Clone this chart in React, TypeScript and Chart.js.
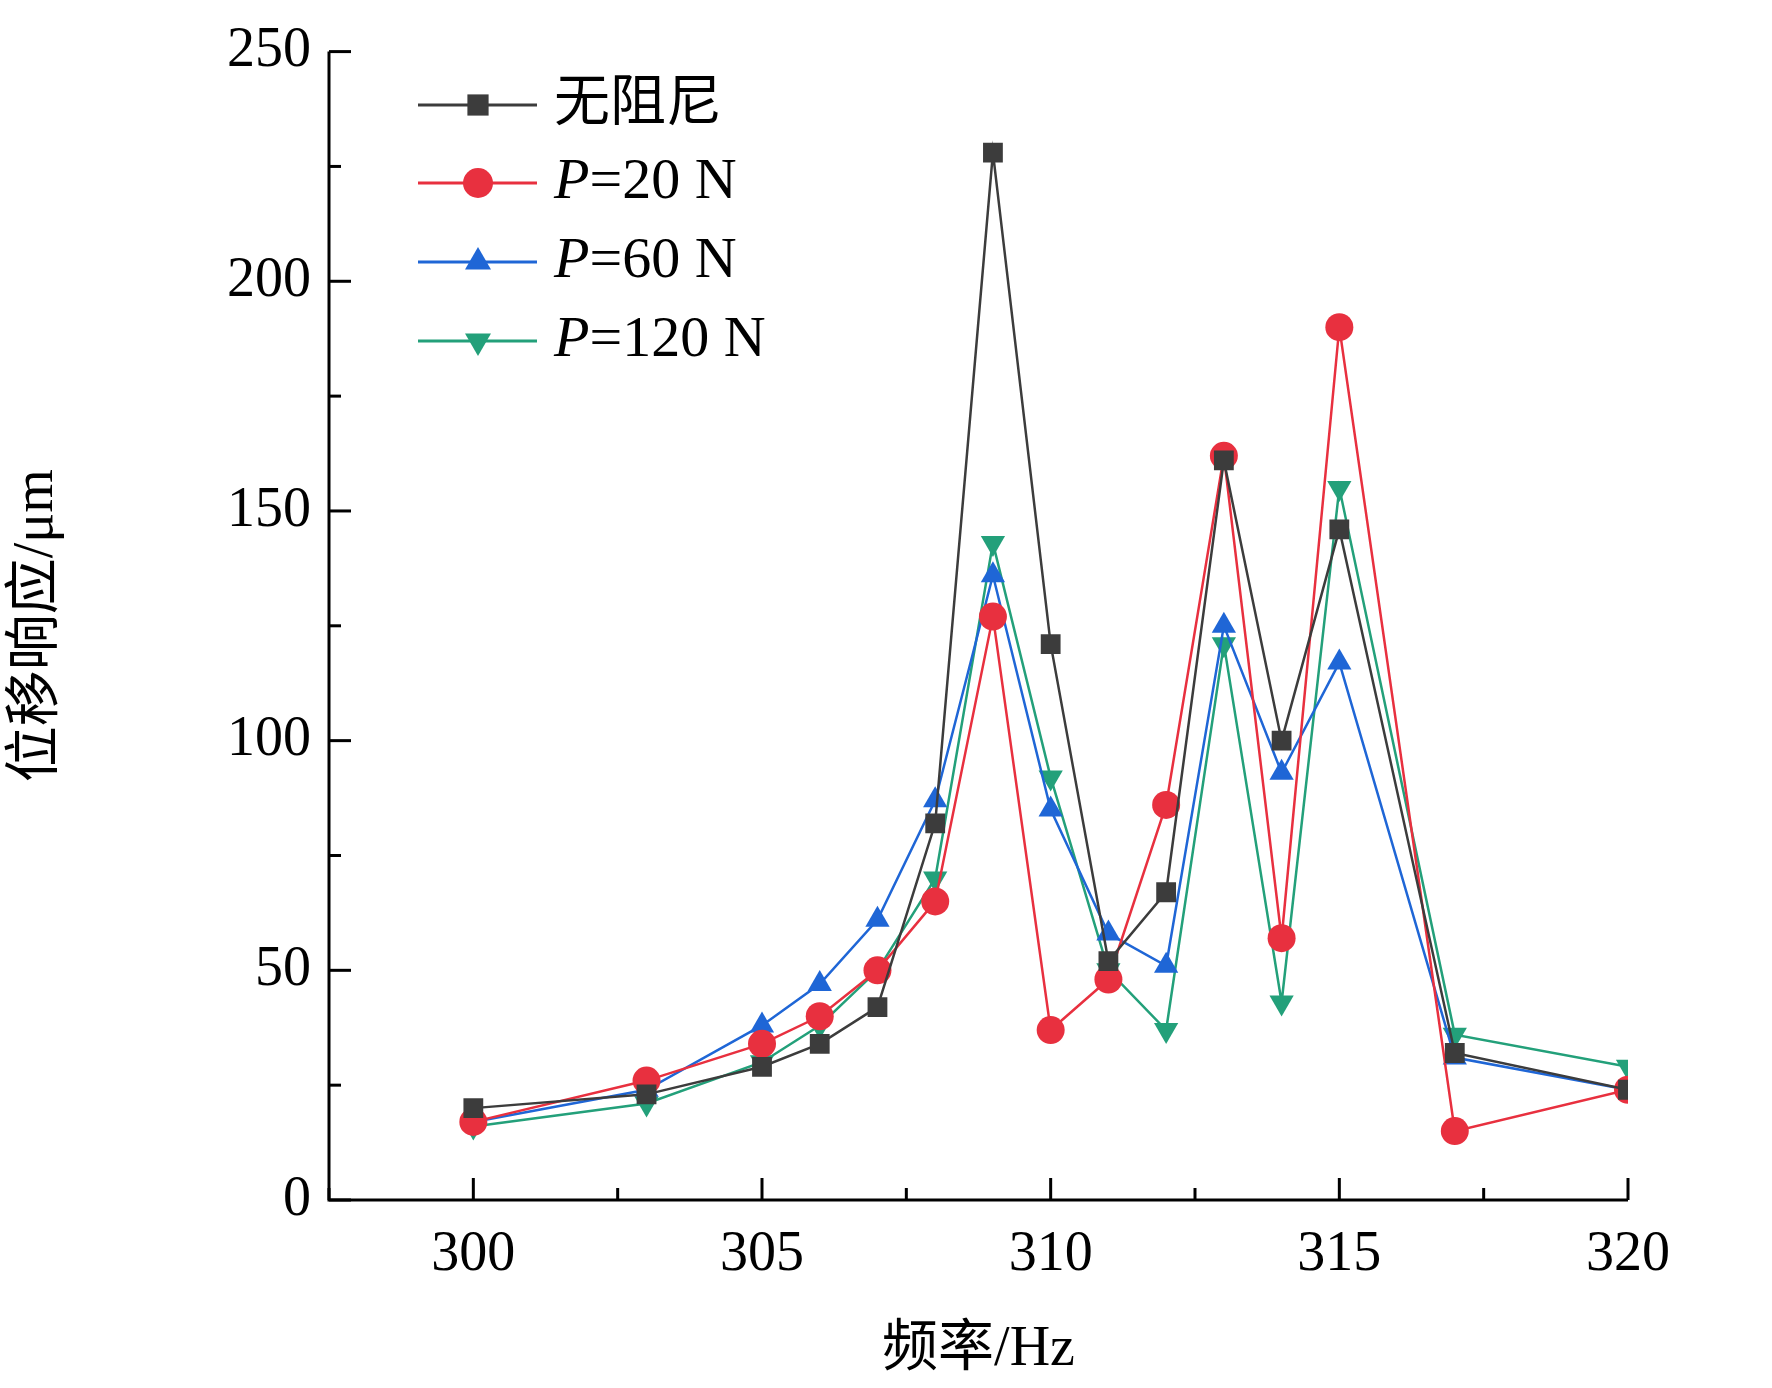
import { useEffect, useRef } from "react"
import { Chart, registerables } from "chart.js"
import { drawPoint } from "chart.js/helpers"

Chart.register(...registerables)

const freqs = [300, 303, 305, 306, 307, 308, 309, 310, 311, 312, 313, 314, 315, 317, 320]
const noDamping = [20, 23, 29, 34, 42, 82, 228, 121, 52, 67, 161, 100, 146, 32, 24]
const p20 = [17, 26, 34, 40, 50, 65, 127, 37, 48, 86, 162, 57, 190, 15, 24]
const p60 = [17, 24, 38, 47, 61, 87, 136, 85, 58, 51, 125, 93, 117, 31, 24]
const p120 = [16, 21, 30, 38, 50, 70, 143, 92, 50, 37, 121, 43, 155, 36, 29]
const xTicks = [300, 305, 310, 315, 320]
const yTicks = [0, 50, 100, 150, 200, 250]

const series = [
  { label: "无阻尼", data: noDamping, color: "#3c3c3c", style: "rect", rot: 0 },
  { label: "=20 N", data: p20, color: "#e8303f", style: "circle", rot: 0 },
  { label: "=60 N", data: p60, color: "#1f66d6", style: "triangle", rot: 0 },
  { label: "=120 N", data: p120, color: "#23a07a", style: "triangle", rot: 180 },
]

const SERIF = "'Liberation Serif', 'Noto Sans CJK SC', serif"

const axesPlugin = {
  id: "axesTicks",
  afterDraw(chart: any) {
    const { ctx, chartArea: a, scales } = chart
    const x = scales.x
    const y = scales.y
    ctx.save()
    ctx.strokeStyle = "#000"
    ctx.lineWidth = 3
    ctx.beginPath()
    ctx.moveTo(a.left, a.top)
    ctx.lineTo(a.left, a.bottom)
    ctx.lineTo(a.right, a.bottom)
    ctx.stroke()
    for (let v = 297.5; v <= 320; v += 2.5) {
      const px = x.getPixelForValue(v)
      const len = v % 5 === 0 ? 22 : 12
      ctx.beginPath()
      ctx.moveTo(px, a.bottom)
      ctx.lineTo(px, a.bottom - len)
      ctx.stroke()
    }
    for (let v = 0; v <= 250; v += 25) {
      const py = y.getPixelForValue(v)
      const len = v % 50 === 0 ? 22 : 12
      ctx.beginPath()
      ctx.moveTo(a.left, py)
      ctx.lineTo(a.left + len, py)
      ctx.stroke()
    }
    // legend
    const rows = [105, 183, 262, 341]
    series.forEach((s, i) => {
      const ry = rows[i]
      ctx.strokeStyle = s.color
      ctx.lineWidth = 3
      ctx.beginPath()
      ctx.moveTo(418, ry)
      ctx.lineTo(537, ry)
      ctx.stroke()
      ctx.fillStyle = s.color
      ctx.lineWidth = 0.01
      drawPoint(ctx, { pointStyle: s.style as any, radius: 15, rotation: s.rot, borderWidth: 0 }, 478, ry)
      ctx.fillStyle = "#000"
      ctx.textBaseline = "middle"
      ctx.textAlign = "left"
      if (i === 0) {
        ctx.font = `56px ${SERIF}`
        ctx.fillText(s.label, 554, ry)
      } else {
        ctx.font = `italic 58px ${SERIF}`
        ctx.fillText("P", 554, ry)
        const w = ctx.measureText("P").width
        ctx.font = `58px ${SERIF}`
        ctx.fillText(s.label, 554 + w, ry)
      }
    })
    ctx.restore()
  },
}

export default function App() {
  const ref = useRef<HTMLCanvasElement>(null)

  useEffect(() => {
    document.body.style.margin = "0"
    if (!ref.current) return
    const chart = new Chart(ref.current, {
      type: "line",
      data: {
        datasets: series.map((s) => ({
          label: s.label,
          data: freqs.map((f, i) => ({ x: f, y: s.data[i] })),
          borderColor: s.color,
          backgroundColor: s.color,
          borderWidth: 2.5,
          pointStyle: s.style as any,
          pointRotation: s.rot,
          pointRadius: 14,
          pointBorderWidth: 0,
          tension: 0,
        })),
      },
      options: {
        animation: false,
        responsive: false,
        layout: { padding: { top: 34, right: 144, left: 0, bottom: 0 } },
        plugins: { legend: { display: false }, tooltip: { enabled: false } },
        scales: {
          x: {
            type: "linear",
            min: 297.5,
            max: 320,
            afterBuildTicks: (s: any) => {
              s.ticks = xTicks.map((v) => ({ value: v }))
            },
            afterFit: (s: any) => {
              s.height = 188
            },
            grid: { display: false, drawTicks: false },
            border: { display: false },
            ticks: { color: "#000", font: { family: SERIF, size: 56 }, padding: 22 },
            title: { display: true, text: "频率/Hz", color: "#000", font: { family: SERIF, size: 56 }, padding: { top: 8 } },
          },
          y: {
            min: 0,
            max: 250,
            afterBuildTicks: (s: any) => {
              s.ticks = yTicks.map((v) => ({ value: v }))
            },
            afterFit: (s: any) => {
              s.width = 329
            },
            grid: { display: false, drawTicks: false },
            border: { display: false },
            ticks: { color: "#000", font: { family: SERIF, size: 56 }, padding: 18 },
            title: { display: true, text: "位移响应/μm", color: "#000", font: { family: SERIF, size: 56 }, padding: { bottom: 30 } },
          },
        },
      },
      plugins: [axesPlugin],
    })
    return () => chart.destroy()
  }, [])

  return (
    <div style={{ width: 1772, height: 1388, background: "#fff" }}>
      <canvas ref={ref} width={1772} height={1388} style={{ width: 1772, height: 1388 }} />
    </div>
  )
}
